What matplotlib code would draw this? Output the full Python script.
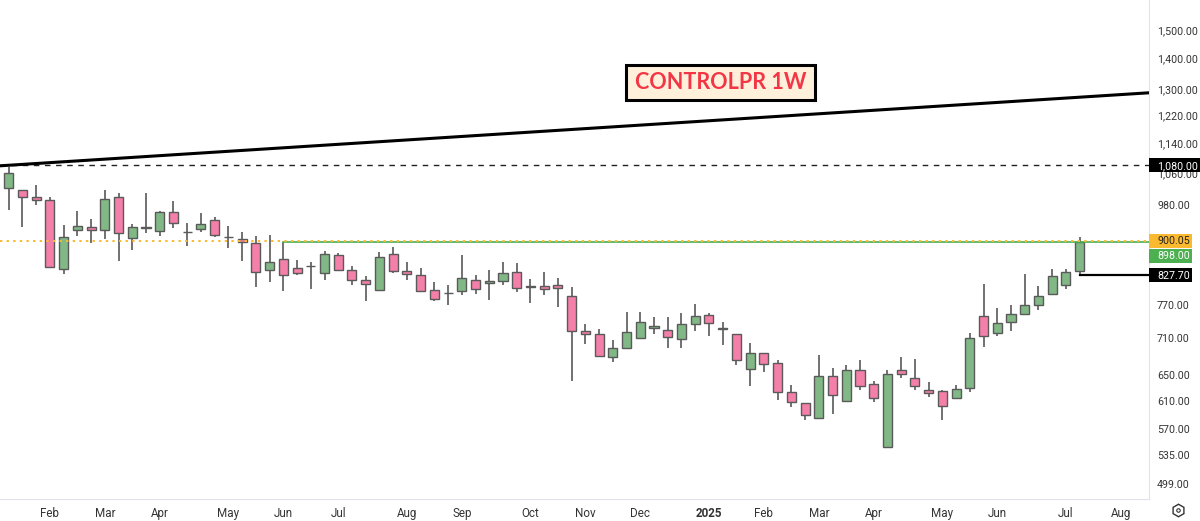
import matplotlib
matplotlib.use('Agg')
import matplotlib.pyplot as plt

plt.rcParams['font.family'] = ['Roboto', 'DejaVu Sans']

# weekly candles
opens = [1022, 1018, 1001.5, 993.5, 840, 924, 931, 924.5, 1001, 905.5, 931, 921, 964, 919.3, 926, 945, 909, 903, 894, 838, 860,
         842.5, 846, 833, 869, 839, 819, 799, 871, 837, 828, 798, 792, 797, 819, 812, 816.5, 834, 804, 807, 808, 787,
         722, 718, 678, 694.5, 711.5, 729, 725, 709, 734.5, 752, 726, 718, 660, 684.5, 669, 623, 607, 585, 648, 610, 657, 635.5,
         546, 657.5, 645, 626, 625, 615, 630, 749, 719, 739, 753.6, 769, 790, 808, 837]
highs = [1076, 1018, 1030, 1000, 935, 968, 948, 1018, 1011, 937, 1010, 968, 991, 939, 962, 953, 932, 920, 910, 913, 898,
         859, 854, 878, 873, 847, 826, 875, 886, 854, 842, 814, 809, 869.5, 828, 838, 855.5, 852, 821, 834, 822, 805,
         735, 726, 708, 757, 757, 748, 748, 755, 771, 755, 739, 718, 702, 686, 674, 634.5, 607, 682, 661, 666, 674, 641,
         658, 679, 675, 639, 626, 634.5, 719, 809.5, 765, 770, 830, 806.5, 840, 840, 909]
lows = [970, 931, 981, 842, 830, 910, 894.5, 903, 857.5, 880, 916, 911, 929, 889, 919, 909, 883, 856, 805, 815, 796,
        828, 801, 818, 837, 809, 778, 799, 833, 818, 796, 777, 769, 788, 791, 780, 808, 795, 774.5, 789, 767, 641,
        701, 680.6, 671, 694.5, 711.5, 718, 694, 693, 723, 713.5, 698, 666, 632.5, 655, 612, 600.5, 582, 585, 591, 610, 626, 608,
        546, 645, 626, 616, 583, 615, 623, 696, 714.5, 722, 753.6, 760, 790, 801, 827.7]
closes = [1061, 1001, 994, 845, 909, 932, 924, 996.5, 916, 931, 928, 964, 939.6, 920, 938, 912, 909, 897, 835, 853.5, 828,
          833, 846, 871, 839, 819, 811, 866, 837, 830, 797, 782, 792, 822, 801, 816.5, 833, 803, 807, 801, 803, 722,
          718, 680.6, 694.5, 721, 739, 731, 713, 734.5, 750, 737, 729, 674, 684.5, 667, 624, 608, 589, 648, 619, 657, 633, 614.5,
          651, 652, 633, 622, 603, 628, 711, 713.5, 737, 753.6, 770, 787, 827, 834, 898]

price_ticks = [1500, 1400, 1300, 1220, 1140, 1060, 980, 770, 710, 650, 610, 570, 535, 499]
month_pos = [3, 7, 11, 16, 20, 24, 29, 33, 38, 42, 46, 51, 55, 59, 63, 68, 72, 77, 81]
month_labels = ['Feb', 'Mar', 'Apr', 'May', 'Jun', 'Jul', 'Aug', 'Sep', 'Oct', 'Nov', 'Dec', '2025',
                'Feb', 'Mar', 'Apr', 'May', 'Jun', 'Jul', 'Aug']

trend_prices = [1079, 1288]
resistance = 1080.0
last_high = 900.05
last_close = 898.0
last_low = 827.7

fig = plt.figure(figsize=(12, 5.21), dpi=100)
ax = fig.add_axes([0, 22 / 521, 1149 / 1200, 499 / 521])
ax.set_yscale('log')
x_left, x_right = -0.634, 83.05
ax.set_xlim(x_left, x_right)
ax.set_ylim(481, 1613)

# candles
xs = list(range(len(opens)))
colors = ['#81b886' if c >= o else '#f47fa8' for o, c in zip(opens, closes)]
ax.vlines(xs, lows, highs, color='#4a4a4a', lw=1.1, zorder=2)
bottoms = [min(o, c) for o, c in zip(opens, closes)]
heights = [abs(o - c) for o, c in zip(opens, closes)]
ax.bar(xs, heights, bottom=bottoms, width=0.66, color=colors, edgecolor='#5a5a5a', lw=1.0, zorder=3)

# lines
ax.plot([x_left, x_right], trend_prices, color='black', lw=2.2, zorder=4)
ax.axhline(resistance, color='#222222', lw=1, dashes=(4, 4), zorder=1)
ax.plot([20, x_right], [last_close, last_close], color='#4caf50', lw=1.2, zorder=4)
ax.axhline(last_high, color='#fbb92f', lw=1.4, dashes=(1.2, 2.2), zorder=5)
ax.plot([78, x_right], [last_low, last_low], color='black', lw=1.6, zorder=4)

# title box
fig.patches.append(plt.Rectangle((626 / 1200, 1 - 99.5 / 521), 189 / 1200, 34 / 521, transform=fig.transFigure,
                                 fc='#fff0dc', ec='black', lw=2.2, zorder=9))
fig.text(720.5 / 1200, 1 - 82.5 / 521, 'CONTROLPR 1W', color='#f23645', fontsize=15.5, fontweight='bold',
         family=['Lato', 'DejaVu Sans'], ha='center', va='center', zorder=10)

# axes
for side in ['top', 'left']:
    ax.spines[side].set_visible(False)
ax.spines['right'].set_color('#e0e3eb')
ax.spines['bottom'].set_color('#e0e3eb')
ax.yaxis.tick_right()
ax.set_yticks(price_ticks)
ax.set_yticklabels([f'{p:,.2f}' for p in price_ticks])
ax.minorticks_off()
ax.tick_params(axis='y', length=0, pad=5.8, labelsize=7.7, labelcolor='#333333')
ax.set_xticks(month_pos)
ax.set_xticklabels(month_labels)
ax.tick_params(axis='x', length=0, pad=6, labelsize=8.4, labelcolor='#333333')
ax.get_xticklabels()[11].set_fontweight('bold')

# price tags on the axis, offset moves a tag off a neighbour in pixels
def price_tag(price, text, bg, fg, right, offset=0):
    y = ax.transData.transform((0, price))[1] / fig.bbox.height - offset / 521
    fig.patches.append(plt.Rectangle((1149 / 1200, y - 7 / 521), (right - 1149) / 1200, 14 / 521,
                                     transform=fig.transFigure, fc=bg, ec='none', zorder=8))
    fig.text(1157 / 1200, y - 0.5 / 521, text, color=fg, fontsize=7.7, ha='left', va='center', zorder=9)

price_tag(resistance, '1,080.00', 'black', 'white', 1200)
price_tag(last_high, '900.05', '#fbb92f', '#222222', 1192)
price_tag(last_close, '898.00', '#4caf50', 'white', 1192, offset=14)
price_tag(last_low, '827.70', 'black', 'white', 1192)

# settings icon
fig.add_artist(plt.Line2D([1178 / 1200], [1 - 510 / 521], marker='h', ms=9, mfc='none', mec='#333333', mew=1,
                          transform=fig.transFigure))
fig.add_artist(plt.Line2D([1178 / 1200], [1 - 510 / 521], marker='o', ms=2.5, mfc='none', mec='#333333', mew=0.8,
                          transform=fig.transFigure))

fig.savefig('out.png', dpi=100)
